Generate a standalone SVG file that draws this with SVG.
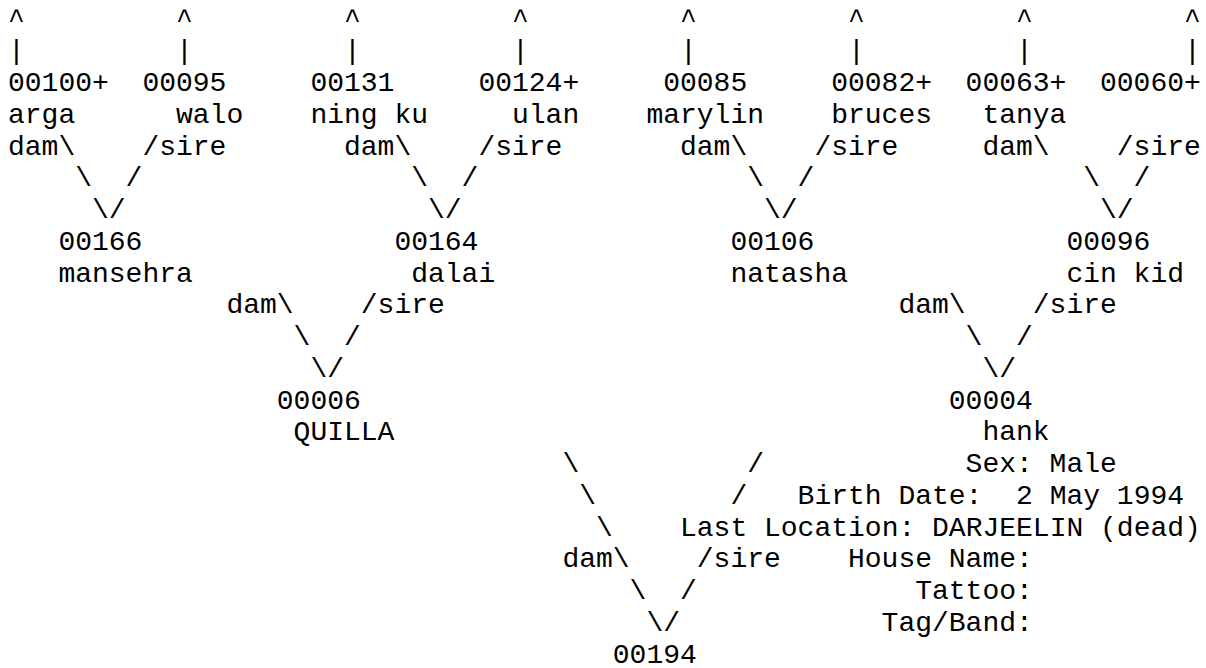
<svg xmlns="http://www.w3.org/2000/svg" width="1206" height="668" viewBox="0 0 1206 668" xml:space="preserve">
<style>
text { font-family: "Liberation Mono", "Courier New", monospace; font-size: 28px; fill: #000; white-space: pre; }
</style>
<rect width="1206" height="668" fill="#ffffff"/>
<g id="connectors">
<text x="8" y="27.5">^</text><text x="176" y="27.5">^</text><text x="344" y="27.5">^</text><text x="512" y="27.5">^</text><text x="680" y="27.5">^</text><text x="848" y="27.5">^</text><text x="1016" y="27.5">^</text><text x="1184" y="27.5">^</text>
<text x="8" y="59.25">|</text><text x="176" y="59.25">|</text><text x="344" y="59.25">|</text><text x="512" y="59.25">|</text><text x="680" y="59.25">|</text><text x="848" y="59.25">|</text><text x="1016" y="59.25">|</text><text x="1184" y="59.25">|</text>
<text x="8" y="154.5">dam\</text><text x="142.4" y="154.5">/sire</text>
<text x="344" y="154.5">dam\</text><text x="478.4" y="154.5">/sire</text>
<text x="680" y="154.5">dam\</text><text x="814.4" y="154.5">/sire</text>
<text x="982.4" y="154.5">dam\</text><text x="1116.8" y="154.5">/sire</text>
<text x="75.2" y="186.25">\</text><text x="125.6" y="186.25">/</text>
<text x="411.2" y="186.25">\</text><text x="461.6" y="186.25">/</text>
<text x="747.2" y="186.25">\</text><text x="797.6" y="186.25">/</text>
<text x="1083.2" y="186.25">\</text><text x="1133.6" y="186.25">/</text>
<text x="92" y="218">\/</text><text x="428" y="218">\/</text><text x="764" y="218">\/</text><text x="1100" y="218">\/</text>
<text x="226.4" y="313.25">dam\</text><text x="360.8" y="313.25">/sire</text>
<text x="898.4" y="313.25">dam\</text><text x="1032.8" y="313.25">/sire</text>
<text x="293.6" y="345">\</text><text x="344" y="345">/</text>
<text x="965.6" y="345">\</text><text x="1016" y="345">/</text>
<text x="310.4" y="376.75">\/</text><text x="982.4" y="376.75">\/</text>
<text x="562.4" y="472">\</text><text x="747.2" y="472">/</text>
<text x="579.2" y="503.75">\</text><text x="730.4" y="503.75">/</text>
<text x="596" y="535.5">\</text>
<text x="562.4" y="567.25">dam\</text><text x="696.8" y="567.25">/sire</text>
<text x="629.6" y="599">\</text><text x="680" y="599">/</text>
<text x="646.4" y="630.75">\/</text>
</g>
<g id="n00100"><text x="8" y="91">00100+</text><text x="8" y="122.75">arga</text></g>
<g id="n00095"><text x="142.4" y="91">00095</text><text x="176" y="122.75">walo</text></g>
<g id="n00131"><text x="310.4" y="91">00131</text><text x="310.4" y="122.75">ning ku</text></g>
<g id="n00124"><text x="478.4" y="91">00124+</text><text x="512" y="122.75">ulan</text></g>
<g id="n00085"><text x="663.2" y="91">00085</text><text x="646.4" y="122.75">marylin</text></g>
<g id="n00082"><text x="831.2" y="91">00082+</text><text x="831.2" y="122.75">bruces</text></g>
<g id="n00063"><text x="965.6" y="91">00063+</text><text x="982.4" y="122.75">tanya</text></g>
<g id="n00060"><text x="1100" y="91">00060+</text></g>
<g id="n00166"><text x="58.4" y="249.75">00166</text><text x="58.4" y="281.5">mansehra</text></g>
<g id="n00164"><text x="394.4" y="249.75">00164</text><text x="411.2" y="281.5">dalai</text></g>
<g id="n00106"><text x="730.4" y="249.75">00106</text><text x="730.4" y="281.5">natasha</text></g>
<g id="n00096"><text x="1066.4" y="249.75">00096</text><text x="1066.4" y="281.5">cin kid</text></g>
<g id="n00006"><text x="276.8" y="408.5">00006</text><text x="293.6" y="440.25">QUILLA</text></g>
<g id="n00004"><text x="948.8" y="408.5">00004</text><text x="982.4" y="440.25">hank</text>
<text x="965.6" y="472">Sex: Male</text>
<text x="797.6" y="503.75">Birth Date:  2 May 1994</text>
<text x="680" y="535.5">Last Location: DARJEELIN (dead)</text>
<text x="848" y="567.25">House Name:</text>
<text x="915.2" y="599">Tattoo:</text>
<text x="881.6" y="630.75">Tag/Band:</text>
</g>
<g id="n00194"><text x="612.8" y="662.5">00194</text></g>
</svg>
